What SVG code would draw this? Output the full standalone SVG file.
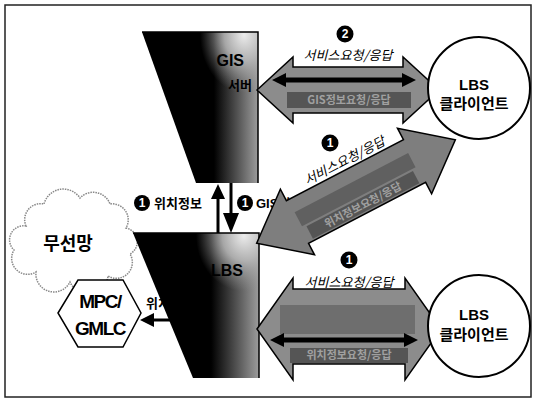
<svg xmlns="http://www.w3.org/2000/svg" width="533" height="400" viewBox="0 0 533 400">
<style>
.kr{font-family:"Liberation Sans","Noto Sans CJK KR",sans-serif;font-weight:bold}
.it{font-family:"Noto Sans CJK KR","Liberation Sans",sans-serif;font-style:italic;font-size:13px;fill:#000}
.arr{fill:#8c8c8c;stroke:#000;stroke-width:1.5;stroke-linejoin:miter}
.band{fill:#555}
.bandtxt{font-family:"Noto Sans CJK KR",sans-serif;font-weight:bold;font-size:11px;fill:#a0a0a0}
.num circle{fill:#000}
.num text{font-family:"Liberation Sans",sans-serif;font-weight:bold;font-size:12px;fill:#fff;text-anchor:middle}
.client circle{fill:#fff;stroke:#000;stroke-width:2}
.client text{font-family:"Liberation Sans","Noto Sans CJK KR",sans-serif;font-weight:bold;font-size:15px;text-anchor:middle;fill:#000}
</style>
<defs>
<linearGradient id="gh" x1="0" y1="0" x2="1" y2="0">
<stop offset="0.62" stop-color="#777" stop-opacity="0"/>
<stop offset="0.92" stop-color="#7c7c7c" stop-opacity="1"/>
<stop offset="1" stop-color="#9c9c9c" stop-opacity="1"/>
</linearGradient>
<radialGradient id="gr" cx="0.88" cy="0.02" r="0.38">
<stop offset="0" stop-color="#ececec" stop-opacity="1"/>
<stop offset="0.45" stop-color="#bdbdbd" stop-opacity="0.85"/>
<stop offset="1" stop-color="#999" stop-opacity="0"/>
</radialGradient>
</defs>
<rect x="5" y="5" width="526" height="392" fill="#fff" stroke="#222" stroke-width="1.5"/>

<g id="cloud">
<path d="M26,226 a16,16 0 0 1 18,-22 a20,20 0 0 1 36,-6 a18,18 0 0 1 30,6 a16,16 0 0 1 16,24 a14,14 0 0 1 4,26 a16,16 0 0 1 -22,22 a20,20 0 0 1 -38,6 a18,18 0 0 1 -34,-10 a16,16 0 0 1 -22,-22 a14,14 0 0 1 12,-24 Z" fill="#fff" stroke="#888" stroke-width="1.5" stroke-dasharray="1.5 1"/>
<text x="68" y="250" class="kr" font-size="18" text-anchor="middle">무선망</text>
</g>

<g id="mpc">
<polygon points="58,313 78,280 123,280 141,313 123,347 78,347" fill="#fff" stroke="#000" stroke-width="1.5"/>
<text x="100" y="308" class="kr" font-size="19" text-anchor="middle" letter-spacing="-1.5">MPC/</text>
<text x="100" y="335" class="kr" font-size="19" text-anchor="middle" letter-spacing="-1.5">GMLC</text>
</g>

<g id="connectors">
<text x="146" y="308" class="kr" font-size="13">위치정보</text>
<line x1="172" y1="320" x2="152" y2="320" stroke="#000" stroke-width="3"/>
<polygon points="140,320 154,313 154,327" fill="#000"/>
<line x1="218" y1="233" x2="218" y2="196" stroke="#000" stroke-width="3"/>
<polygon points="218,184 211,199 225,199" fill="#000"/>
<line x1="231" y1="183" x2="231" y2="216" stroke="#000" stroke-width="3"/>
<polygon points="231,233 223,213 239,213" fill="#000"/>
<g class="num"><circle cx="142" cy="203" r="8"/><text x="142" y="207">1</text></g>
<text x="154" y="208" class="kr" font-size="13">위치정보</text>
<g class="num"><circle cx="245" cy="203" r="8"/><text x="245" y="207">1</text></g>
<text x="256" y="208" class="kr" font-size="13">GIS정보</text>
</g>

<g id="gis-server">
<polygon points="142,32 258,32 258,183 196,183" fill="#000"/>
<polygon points="142,32 258,32 258,183 196,183" fill="url(#gh)"/>
<polygon points="142,32 258,32 258,183 196,183" fill="url(#gr)"/>
<polyline points="142,32 258,32 258,183" fill="none" stroke="#000" stroke-width="1.5"/>
<text x="244" y="66" class="kr" font-size="16" text-anchor="end" fill="#000">GIS</text>
<text x="252" y="90" class="kr" font-size="13" text-anchor="end" fill="#000">서버</text>
</g>

<g id="lbs-server">
<polygon points="133,233 259,233 259,378 193,378" fill="#000"/>
<polygon points="133,233 259,233 259,378 193,378" fill="url(#gh)"/>
<polygon points="133,233 259,233 259,378 193,378" fill="url(#gr)"/>
<polyline points="133,233 259,233 259,378" fill="none" stroke="#000" stroke-width="1.5"/>
<text x="243" y="276" class="kr" font-size="16" text-anchor="end" fill="#000">LBS</text>
</g>

<g id="arrows">
<g id="arrow-top">
<path class="arr" d="M257,90 L293,57 L293,67 L403,67 L403,57 L439,90 L403,123 L403,113 L293,113 L293,123 Z"/>
<path d="M272,80 L286,73 L286,77.5 L402,77.5 L402,73 L416,80 L402,87 L402,82.5 L286,82.5 L286,87 Z" fill="#000"/>
<rect x="287" y="92" width="124" height="16" class="band"/>
<text x="349" y="104" class="bandtxt" text-anchor="middle">GIS정보요청/응답</text>
<text x="348" y="60" class="it" font-size="14" text-anchor="middle">서비스요청/응답</text>
<g class="num"><circle cx="345" cy="34" r="8.5"/><text x="345" y="38">2</text></g>
</g>
<g id="arrow-bottom">
<path class="arr" d="M257,329 L293,278 L293,289 L405,289 L405,278 L441,329 L405,380 L405,364 L293,364 L293,380 Z"/>
<rect x="280" y="305" width="135" height="29" fill="#6e6e6e"/>
<path d="M270,340 L284,333 L284,337.5 L404,337.5 L404,333 L418,340 L404,347 L404,342.5 L284,342.5 L284,347 Z" fill="#000"/>
<rect x="290" y="348" width="118" height="15" class="band"/>
<text x="349" y="359" class="bandtxt" text-anchor="middle">위치정보요청/응답</text>
<text x="349" y="287" class="it" font-size="14" text-anchor="middle">서비스요청/응답</text>
<g class="num"><circle cx="349" cy="260" r="8.5"/><text x="349" y="264">1</text></g>
</g>
<g id="arrow-diag" transform="translate(356,191.5) rotate(-27.5)">
<path class="arr" d="M-112,0 L-66,-37 L-66,-24 L66,-24 L66,-37 L112,0 L66,37 L66,24 L-66,24 L-66,37 Z" style="fill:#7e7e7e"/>
<rect x="-64" y="-10" width="128" height="16" fill="#606060"/>
<rect x="-60" y="8" width="120" height="14" class="band"/>
<text x="0" y="19" class="bandtxt" text-anchor="middle">위치정보요청/응답</text>
<text x="4" y="-28" class="it" font-size="14" text-anchor="middle">서비스요청/응답</text>
</g>
<g class="num"><circle cx="330" cy="143" r="8.5"/><text x="330" y="147">1</text></g>
</g>

<g id="client-top" class="client">
<circle cx="479" cy="88" r="51"/>
<text x="474" y="90">LBS</text>
<text x="474" y="109">클라이언트</text>
</g>
<g id="client-bottom" class="client">
<circle cx="479" cy="326" r="51"/>
<text x="474" y="320">LBS</text>
<text x="474" y="340">클라이언트</text>
</g>
</svg>
